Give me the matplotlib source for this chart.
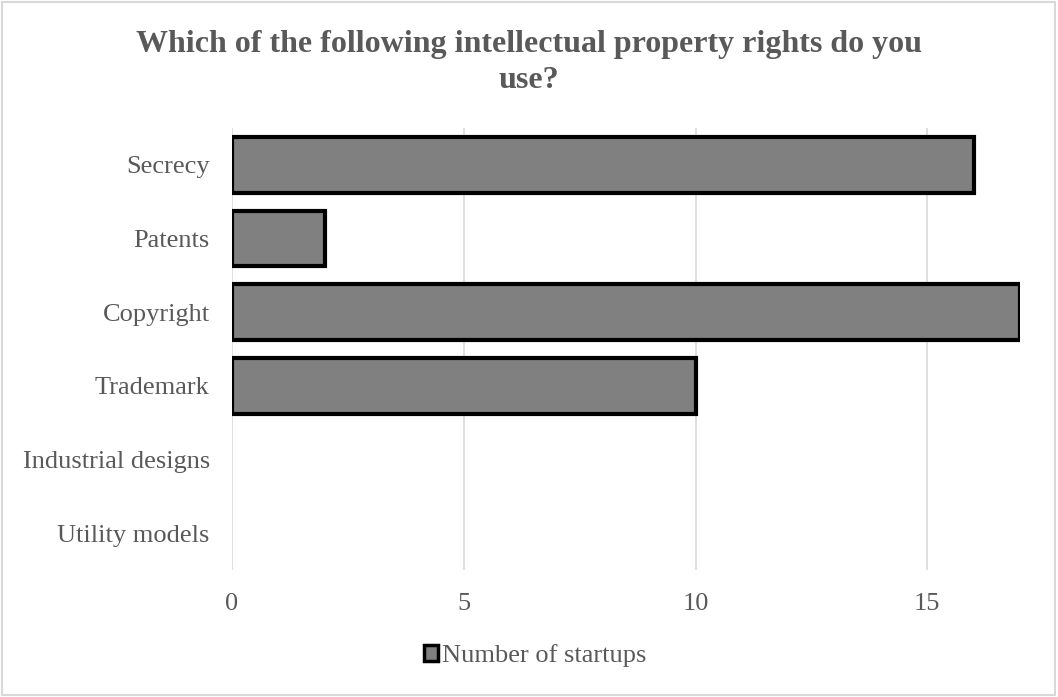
import matplotlib
matplotlib.use("Agg")
import matplotlib.pyplot as plt
from matplotlib.patches import Rectangle

categories = ["Secrecy", "Patents", "Copyright", "Trademark", "Industrial designs", "Utility models"]
startups = [16, 2, 17, 10, 0, 0]
xticks = [0, 5, 10, 15]
title = "Which of the following intellectual property rights do you\nuse?"
series_name = "Number of startups"

plt.rcParams["font.family"] = ["Liberation Serif", "DejaVu Serif"]
text_color = "#595959"

W, H = 1058, 697
fig = plt.figure(figsize=(W / 100, H / 100), dpi=100)
fig.patch.set_facecolor("white")
# light frame around the chart area
fig.add_artist(Rectangle((0.002, 0.003), 0.995, 0.994, transform=fig.transFigure,
                         fill=False, edgecolor="#d9d9d9", linewidth=1.5))

ax = fig.add_axes([232 / W, 1 - 570 / H, (1020 - 232) / W, (570 - 128) / H])
y = list(range(len(categories)))
bars = ax.barh(y, startups, height=0.76, color="#808080", edgecolor="black",
               linewidth=3, label=series_name, zorder=3)
# empty categories get no visible mark
for b, v in zip(bars, startups):
    if v == 0:
        b.set_visible(False)
ax.set_ylim(len(categories) - 0.5, -0.5)
ax.set_xlim(0, 17)
ax.set_xticks(xticks)
ax.set_yticks(y)
ax.set_yticklabels(categories)
ax.tick_params(axis="both", length=0, colors=text_color, labelsize=19)
ax.tick_params(axis="x", pad=16.5)
ax.tick_params(axis="y", pad=16)
ax.grid(axis="x", color="#d9d9d9", linewidth=1.2, zorder=0)
for s in ax.spines.values():
    s.set_visible(False)

fig.text(0.5, 1 - 30 / H, title, ha="center", va="top", fontsize=23,
         fontweight="bold", color=text_color, linespacing=1.3)

leg = fig.legend(loc="center", bbox_to_anchor=(535 / W, 1 - 656 / H), frameon=False,
                 fontsize=19, handlelength=0.55, handleheight=0.55, handletextpad=0.15,
                 labelcolor=text_color)
for h in leg.legend_handles:
    h.set_linewidth(2.5)

fig.savefig("out.png", dpi=100, facecolor="white")
